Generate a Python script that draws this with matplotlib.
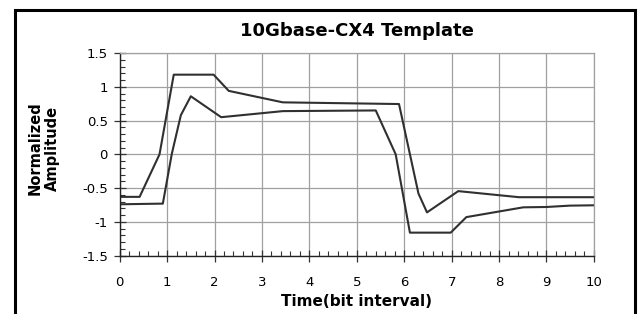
import matplotlib
matplotlib.use("Agg")
import matplotlib.pyplot as plt
from matplotlib.patches import Rectangle
from matplotlib.ticker import MultipleLocator

plt.rcParams['font.family'] = ['DejaVu Sans']

# upper and lower template limits (time in bit intervals, normalized amplitude)
upper_t = [0, 0.42, 0.84, 1.14, 1.98, 2.3, 3.44, 5.89, 6.3, 6.48, 7.14, 8.42, 10]
upper_v = [-0.63, -0.63, 0.0, 1.18, 1.18, 0.94, 0.77, 0.745, -0.58, -0.86, -0.545, -0.635, -0.635]

lower_t = [0, 0.91, 1.1, 1.29, 1.5, 2.14, 3.44, 5.4, 5.82, 6.12, 6.98, 7.31, 8.51, 9.0, 9.49, 10]
lower_v = [-0.74, -0.73, 0.01, 0.58, 0.86, 0.55, 0.64, 0.65, 0.0, -1.16, -1.16, -0.93, -0.785, -0.78, -0.76, -0.755]

x_ticks = list(range(0, 11))
y_ticks = [-1.5, -1, -0.5, 0, 0.5, 1, 1.5]
y_tick_labels = ['-1.5', '-1', '-0.5', '0', '0.5', '1', '1.5']

fig = plt.figure(figsize=(6.4, 3.14), dpi=100)
ax = fig.add_axes([0.187, 0.186, 0.741, 0.645])

ax.plot(upper_t, upper_v, color='#303030', lw=1.5)
ax.plot(lower_t, lower_v, color='#303030', lw=1.5)

ax.set_xlim(0, 10)
ax.set_ylim(-1.5, 1.5)
ax.set_xticks(x_ticks)
ax.set_yticks(y_ticks)
ax.set_yticklabels(y_tick_labels)
ax.xaxis.set_minor_locator(MultipleLocator(0.2))
ax.yaxis.set_minor_locator(MultipleLocator(0.1))
ax.grid(True, which='major', color='#a0a0a0', lw=0.9)
ax.set_axisbelow(True)

ax.tick_params(which='major', direction='inout', length=9, width=0.9,
               labelsize=9.5, color='#333333')
ax.tick_params(axis='x', which='major', pad=10)
ax.tick_params(axis='y', which='major', pad=4)
ax.tick_params(which='minor', direction='in', length=3.5, width=0.8, color='#333333')

for side in ['top', 'right']:
    ax.spines[side].set_color('#a0a0a0')
    ax.spines[side].set_linewidth(0.9)
for side in ['left', 'bottom']:
    ax.spines[side].set_color('#222222')
    ax.spines[side].set_linewidth(1.0)

ax.set_title('10Gbase-CX4 Template', fontsize=13, fontweight='bold', pad=12)
ax.set_xlabel('Time(bit interval)', fontsize=11, fontweight='bold', labelpad=4)
ax.set_ylabel('Normalized\nAmplitude', fontsize=10.5, fontweight='bold',
              labelpad=16, linespacing=1.15)
ax.yaxis.label.set_y(0.53)

fig.patches.append(Rectangle((0.0234, -0.05), 0.969, 1.018, transform=fig.transFigure,
                             fill=False, edgecolor='black', lw=2.2))

fig.savefig('out.png', dpi=100)
